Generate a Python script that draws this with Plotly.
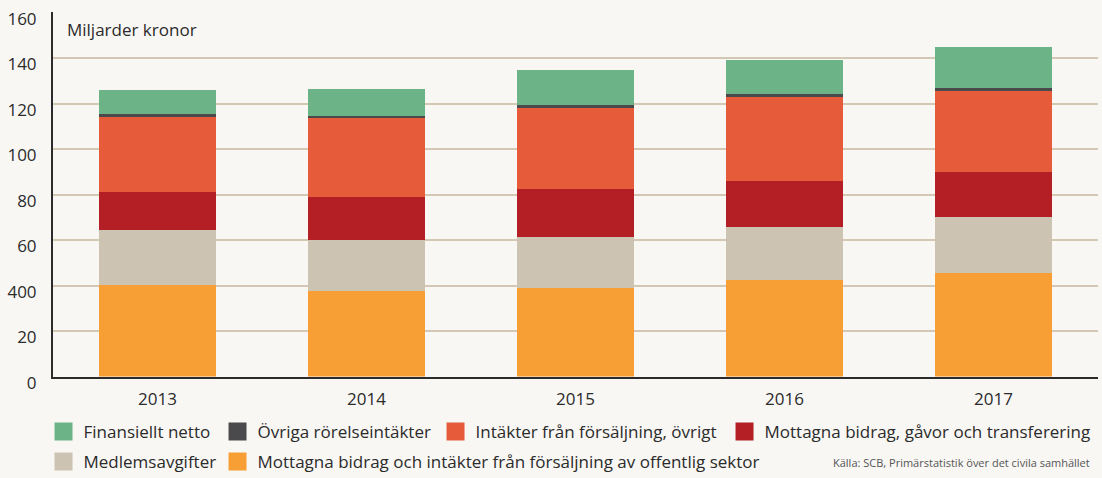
import plotly.graph_objects as go

years = ["2013", "2014", "2015", "2016", "2017"]

# Series (miljarder kronor), bottom to top of each stack
offentlig = [40.2, 37.6, 38.9, 42.3, 45.4]
medlemsavgifter = [24.2, 22.4, 22.4, 23.4, 24.6]
bidrag_gavor = [16.8, 19.0, 21.2, 20.3, 19.8]
forsaljning_ovrigt = [33.3, 34.6, 35.9, 37.1, 35.9]
ovriga_rorelse = [0.8, 0.9, 0.8, 1.3, 1.3]
finansiellt = [10.8, 12.1, 15.6, 14.7, 17.7]

y_tickvals = [0, 20, 40, 60, 80, 100, 120, 140, 160]
y_ticktext = ["0", "20", "400", "60", "80", "100", "120", "140", "160"]

# name, values, colour, legend, legend entry width
series = [
    ("Mottagna bidrag och intäkter från försäljning av offentlig sektor", offentlig, "#f79e35", "legend2", 530),
    ("Medlemsavgifter", medlemsavgifter, "#cdc3b2", "legend2", 129),
    ("Mottagna bidrag, gåvor och transferering", bidrag_gavor, "#b41f26", "legend", 323),
    ("Intäkter från försäljning, övrigt", forsaljning_ovrigt, "#e65c3a", "legend", 244),
    ("Övriga rörelseintäkter", ovriga_rorelse, "#4a4a4c", "legend", 173),
    ("Finansiellt netto", finansiellt, "#6db388", "legend", 129),
]

FONT = "Open Sans"
TXT = "#2b2b2b"
BG = "#f8f7f4"

fig = go.Figure()
for name, vals, color, leg, lw in series:
    fig.add_trace(go.Bar(
        x=years, y=vals, name=name, marker=dict(color=color, line=dict(width=0)),
        showlegend=False, legendgroup=name, hoverinfo="x+y+name",
    ))
# legend keys (larger squares than the default bar key)
for name, vals, color, leg, lw in series:
    fig.add_trace(go.Scatter(
        x=[None], y=[None], mode="markers", name=name, legend=leg, legendgroup=name,
        legendwidth=lw,
        marker=dict(symbol="square", size=16, color=color, line=dict(width=2, color=color)),
        hoverinfo="skip",
    ))

legend_common = dict(
    orientation="h", xanchor="left", yanchor="top",
    xref="container", yref="container",
    traceorder="reversed", font=dict(size=17, color=TXT),
    bgcolor="rgba(0,0,0,0)", itemwidth=30,
)

fig.update_layout(
    barmode="stack",
    bargap=0.44,
    width=1102, height=478,
    margin=dict(l=53, r=4, t=12, b=96),
    paper_bgcolor=BG,
    plot_bgcolor=BG,
    font=dict(family=FONT, size=17, color=TXT),
    xaxis=dict(
        showgrid=False, showline=True, linecolor="#2b2b2b", linewidth=2,
        ticks="", tickfont=dict(size=17, color=TXT), ticklabelstandoff=6,
    ),
    yaxis=dict(
        range=[0, 160.3], tickvals=y_tickvals, ticktext=y_ticktext,
        showgrid=True, gridcolor="#d4c8b4", gridwidth=1.5,
        showline=True, linecolor="#2b2b2b", linewidth=2,
        zeroline=False, ticks="", tickfont=dict(size=17, color=TXT),
        ticklabelshift=6, ticklabelstandoff=11,
    ),
    legend=dict(x=0.0395, y=0.134, **legend_common),
    legend2=dict(x=0.0395, y=0.0711, **legend_common),
    annotations=[
        dict(text="Miljarder kronor", xref="paper", yref="paper", x=0.0115, y=0.953,
             xanchor="left", yanchor="middle", showarrow=False,
             font=dict(size=17, color=TXT)),
        dict(text="Källa: SCB, Primärstatistik över det civila samhället", xref="paper", yref="paper",
             x=0.9943, y=-0.237, xanchor="right", yanchor="middle", showarrow=False,
             font=dict(size=11, color="#555555")),
    ],
)

post = (
    "document.body.style.margin='0px';"
    "document.body.style.background='" + BG + "';"
    "document.documentElement.style.overflow='hidden';"
)

fig.write_html("out.html", config={"displayModeBar": False}, post_script=post)
